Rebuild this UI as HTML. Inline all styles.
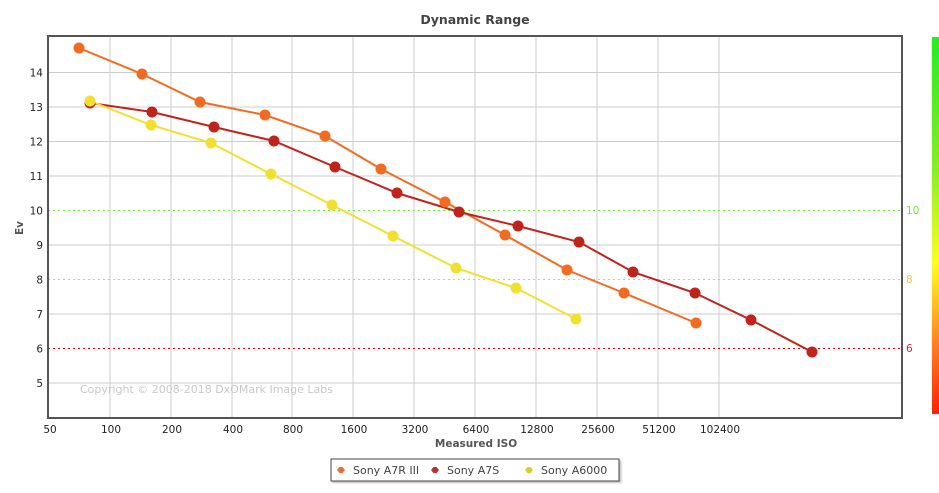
<!DOCTYPE html>
<html><head><meta charset="utf-8"><style>
html,body{margin:0;padding:0;background:#fff;}
svg{display:block;font-family:"DejaVu Sans","Liberation Sans",sans-serif;}
</style></head><body>
<svg width="939" height="493" viewBox="0 0 939 493" xmlns="http://www.w3.org/2000/svg">
<defs>
<linearGradient id="cb" x1="0" y1="0" x2="0" y2="1">
<stop offset="0" stop-color="#22ee22"/>
<stop offset="0.35" stop-color="#88ee22"/>
<stop offset="0.6" stop-color="#ffff22"/>
<stop offset="0.8" stop-color="#ff8822"/>
<stop offset="1" stop-color="#ff2200"/>
</linearGradient>
<filter id="sh"><feDropShadow dx="2" dy="2" stdDeviation="1" flood-color="#999" flood-opacity="0.6"/></filter>
</defs>
<text x="475" y="24" text-anchor="middle" font-size="12.5" font-weight="bold" fill="#444">Dynamic Range</text>
<g stroke="#cccccc" stroke-width="1">
<line x1="48" y1="72.5" x2="902" y2="72.5"/>
<line x1="48" y1="107" x2="902" y2="107"/>
<line x1="48" y1="141.5" x2="902" y2="141.5"/>
<line x1="48" y1="176" x2="902" y2="176"/>
<line x1="48" y1="245" x2="902" y2="245"/>
<line x1="48" y1="314" x2="902" y2="314"/>
<line x1="48" y1="383" x2="902" y2="383"/>
<line x1="110" y1="36" x2="110" y2="418"/>
<line x1="171" y1="36" x2="171" y2="418"/>
<line x1="232" y1="36" x2="232" y2="418"/>
<line x1="292" y1="36" x2="292" y2="418"/>
<line x1="353" y1="36" x2="353" y2="418"/>
<line x1="414" y1="36" x2="414" y2="418"/>
<line x1="475" y1="36" x2="475" y2="418"/>
<line x1="536" y1="36" x2="536" y2="418"/>
<line x1="597" y1="36" x2="597" y2="418"/>
<line x1="658" y1="36" x2="658" y2="418"/>
<line x1="719" y1="36" x2="719" y2="418"/>
</g>
<line x1="48" y1="210.5" x2="902" y2="210.5" stroke="#66ee33" stroke-dasharray="2,3"/>
<line x1="48" y1="279.5" x2="902" y2="279.5" stroke="#f5c050" stroke-dasharray="2,3"/>
<line x1="48" y1="348.5" x2="902" y2="348.5" stroke="#dd0000" stroke-dasharray="2,3"/>
<text x="80" y="393" font-size="11" fill="#c8c8c8">Copyright © 2008-2018 DxOMark Image Labs</text>
<rect x="48" y="36" width="854" height="382" fill="none" stroke="#555" stroke-width="2"/>
<g font-size="10.5" fill="#222" text-anchor="end">
<text x="43" y="76.5">14</text><text x="43" y="111">13</text><text x="43" y="145.5">12</text>
<text x="43" y="180">11</text><text x="43" y="214.5">10</text><text x="43" y="249">9</text>
<text x="43" y="283.5">8</text><text x="43" y="318">7</text><text x="43" y="352.5">6</text><text x="43" y="387">5</text>
</g>
<g font-size="10.5" fill="#222" text-anchor="middle">
<text x="50" y="433">50</text><text x="111" y="433">100</text><text x="172" y="433">200</text>
<text x="233" y="433">400</text><text x="293" y="433">800</text><text x="354" y="433">1600</text>
<text x="415" y="433">3200</text><text x="476" y="433">6400</text><text x="537" y="433">12800</text>
<text x="598" y="433">25600</text><text x="659" y="433">51200</text><text x="720" y="433">102400</text>
</g>
<text x="476" y="447" text-anchor="middle" font-size="10.5" font-weight="bold" fill="#555">Measured ISO</text>
<text transform="translate(23,228) rotate(-90)" text-anchor="middle" font-size="10.5" font-weight="bold" fill="#555">Ev</text>
<g font-size="10.5">
<text x="906" y="214" fill="#66ee33">10</text>
<text x="906" y="283" fill="#f5c050">8</text>
<text x="906" y="352" fill="#dd2244">6</text>
</g>
<rect x="932" y="37" width="7" height="377" fill="url(#cb)"/>
<g fill="none" stroke-width="2">
<polyline stroke="#f26b21" points="79,48 142,74 200,102 265,115 325,136 381,169 445,202 505,235 567,270 624,293 696,323"/>
<polyline stroke="#c0221c" points="90,103 152,112 214,127 274,141 335,167 397,193 459,212 518,226 579,242 633,272 695,293 751,320 812,352"/>
<polyline stroke="#f2e030" points="90,101 151,125 211,143 271,174 332,205 393,236 456,268 516,288 576,319"/>
</g>
<g fill="#f26b21">
<circle cx="79" cy="48" r="5.5"/><circle cx="142" cy="74" r="5.5"/><circle cx="200" cy="102" r="5.5"/><circle cx="265" cy="115" r="5.5"/><circle cx="325" cy="136" r="5.5"/><circle cx="381" cy="169" r="5.5"/><circle cx="445" cy="202" r="5.5"/><circle cx="505" cy="235" r="5.5"/><circle cx="567" cy="270" r="5.5"/><circle cx="624" cy="293" r="5.5"/><circle cx="696" cy="323" r="5.5"/>
</g>
<g fill="#c0221c">
<circle cx="90" cy="103" r="5.5"/><circle cx="152" cy="112" r="5.5"/><circle cx="214" cy="127" r="5.5"/><circle cx="274" cy="141" r="5.5"/><circle cx="335" cy="167" r="5.5"/><circle cx="397" cy="193" r="5.5"/><circle cx="459" cy="212" r="5.5"/><circle cx="518" cy="226" r="5.5"/><circle cx="579" cy="242" r="5.5"/><circle cx="633" cy="272" r="5.5"/><circle cx="695" cy="293" r="5.5"/><circle cx="751" cy="320" r="5.5"/><circle cx="812" cy="352" r="5.5"/>
</g>
<g fill="#f2e030">
<circle cx="90" cy="101" r="5.5"/><circle cx="151" cy="125" r="5.5"/><circle cx="211" cy="143" r="5.5"/><circle cx="271" cy="174" r="5.5"/><circle cx="332" cy="205" r="5.5"/><circle cx="393" cy="236" r="5.5"/><circle cx="456" cy="268" r="5.5"/><circle cx="516" cy="288" r="5.5"/><circle cx="576" cy="319" r="5.5"/>
</g>
<rect x="331" y="459" width="288" height="22" fill="#fff" stroke="#444" stroke-width="1" filter="url(#sh)"/>
<g font-size="11" fill="#444">
<path d="M337,470 l2.5,-3 h3 l2.5,3 l-2.5,3 h-3 z" fill="#e2703a"/>
<text x="353" y="474">Sony A7R III</text>
<path d="M431,470 l2.5,-3 h3 l2.5,3 l-2.5,3 h-3 z" fill="#b83030"/>
<text x="447" y="474">Sony A7S</text>
<path d="M525,470 l2.5,-3 h3 l2.5,3 l-2.5,3 h-3 z" fill="#d8cc30"/>
<text x="541" y="474">Sony A6000</text>
</g>
</svg>
</body></html>
